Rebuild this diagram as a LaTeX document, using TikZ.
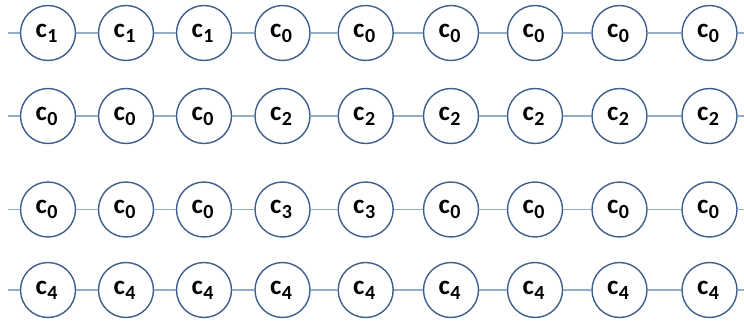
\documentclass[tikz,border=0pt]{standalone}
\usepackage{fontspec}
\setmainfont{Carlito}
\definecolor{ringc}{HTML}{3E5F8C}
\definecolor{linkc}{HTML}{94ADCB}
\tikzset{
  cell/.style={circle, draw=ringc, line width=1.4pt, fill=white, minimum size=55pt, inner sep=0pt, font=\bfseries\fontsize{27}{30}\selectfont},
  link/.style={draw=linkc, line width=1.2pt}
}
\begin{document}
\begin{tikzpicture}[x=1pt,y=-1pt]
\useasboundingbox (0,0) rectangle (744,323);
\def\xs{48,126,204,282.5,365.7,451,535,619.5,709.5}
\foreach \r/\y/\labs in {1/33/{1,1,1,0,0,0,0,0,0}, 2/116/{0,0,0,2,2,2,2,2,2}, 3/209.5/{0,0,0,3,3,0,0,0,0}, 4/290/{4,4,4,4,4,4,4,4,4}}{
  \coordinate (L\r) at (8,\y);
  \coordinate (R\r) at (744,\y);
  \foreach \x [count=\i] in \xs {
    \pgfmathparse{{\labs}[\i-1]}
    \edef\lab{\pgfmathresult}
    \node[cell] (n\r-\i) at (\x,\y) {\hspace*{-3pt}\raisebox{-4pt}{c\kern0.5pt\raisebox{-5pt}{\fontsize{20}{22}\selectfont\lab}}};
  }
  \draw[link] (L\r) -- (n\r-1);
  \foreach \i [evaluate=\i as \j using int(\i+1)] in {1,...,8}{
    \draw[link] (n\r-\i) -- (n\r-\j);
  }
  \draw[link] (n\r-9) -- (R\r);
}
\end{tikzpicture}
\end{document}
